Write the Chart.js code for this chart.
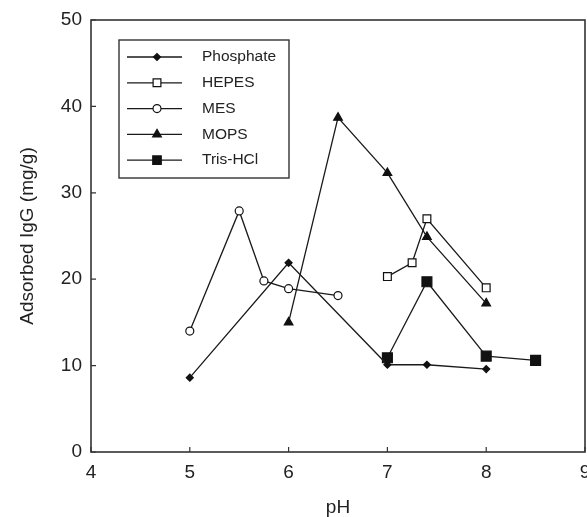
<!DOCTYPE html>
<html>
<head>
<meta charset="utf-8">
<script src="https://cdn.jsdelivr.net/npm/chart.js@4/dist/chart.umd.min.js"></script>
<style>
  html, body { margin: 0; padding: 0; background: #fff; }
  #wrap { width: 587px; height: 517px; }
</style>
</head>
<body>
<div id="wrap"><canvas id="c" width="587" height="517"></canvas></div>
<script>
// Valeurs
const seriesNames = ["Phosphate", "HEPES", "MES", "MOPS", "Tris-HCl"];

const phosphatePH = [5, 6, 7, 7.4, 8];
const phosphateIgG = [8.6, 21.9, 10.1, 10.1, 9.6];

const hepesPH = [7, 7.25, 7.4, 8];
const hepesIgG = [20.3, 21.9, 27, 19];

const mesPH = [5, 5.5, 5.75, 6, 6.5];
const mesIgG = [14, 27.9, 19.8, 18.9, 18.1];

const mopsPH = [6, 6.5, 7, 7.4, 8];
const mopsIgG = [15, 38.7, 32.3, 24.9, 17.2];

const trisPH = [7, 7.4, 8, 8.5];
const trisIgG = [10.9, 19.7, 11.1, 10.6];

const xTicks = [4, 5, 6, 7, 8, 9];
const yTicks = [0, 10, 20, 30, 40, 50];

const FONT = "'Liberation Sans', Arial, sans-serif";
const INK = "#222";

function pts(xs, ys) {
  return xs.map((x, i) => ({ x: x, y: ys[i] }));
}

function serie(label, xs, ys, style, radius, fill) {
  return {
    label: label,
    data: pts(xs, ys),
    borderColor: "#1a1a1a",
    borderWidth: 1.3,
    pointStyle: style,
    pointRadius: radius,
    pointHoverRadius: radius,
    pointBackgroundColor: fill,
    pointBorderColor: "#111",
    pointBorderWidth: 1.2,
    fill: false,
    tension: 0
  };
}

const datasets = [
  serie(seriesNames[0], phosphatePH, phosphateIgG, "rectRot", 3.5, "#111"),
  serie(seriesNames[1], hepesPH, hepesIgG, "rect", 5.5, "#fff"),
  serie(seriesNames[2], mesPH, mesIgG, "circle", 4, "#fff"),
  serie(seriesNames[3], mopsPH, mopsIgG, "triangle", 5, "#111"),
  serie(seriesNames[4], trisPH, trisIgG, "rect", 7, "#111")
];

// cadre + graduations vers l'intérieur
const framePlugin = {
  id: "frame",
  afterDatasetsDraw(chart) {
    const { ctx, chartArea: a, scales } = chart;
    ctx.save();
    ctx.strokeStyle = "#333";
    ctx.lineWidth = 1.6;
    ctx.strokeRect(a.left, a.top, a.right - a.left, a.bottom - a.top);
    ctx.lineWidth = 1.2;
    ctx.beginPath();
    scales.x.ticks.forEach(t => {
      const px = scales.x.getPixelForValue(t.value);
      ctx.moveTo(px, a.bottom);
      ctx.lineTo(px, a.bottom - 5);
    });
    scales.y.ticks.forEach(t => {
      const py = scales.y.getPixelForValue(t.value);
      ctx.moveTo(a.left, py);
      ctx.lineTo(a.left + 5, py);
    });
    ctx.stroke();
    ctx.restore();
  }
};

// légende dans la zone du graphique
const legendPlugin = {
  id: "boxLegend",
  afterDraw(chart) {
    const { ctx, chartArea: a } = chart;
    const bx = a.left + 28, by = a.top + 20, bw = 170, bh = 138;
    ctx.save();
    ctx.strokeStyle = "#333";
    ctx.lineWidth = 1.4;
    ctx.strokeRect(bx, by, bw, bh);
    ctx.font = "15.5px " + FONT;
    ctx.textBaseline = "middle";
    chart.data.datasets.forEach((ds, i) => {
      const y = by + 17 + i * 25.8;
      ctx.strokeStyle = "#1a1a1a";
      ctx.lineWidth = 1.3;
      ctx.beginPath();
      ctx.moveTo(bx + 8, y);
      ctx.lineTo(bx + 63, y);
      ctx.stroke();
      ctx.save();
      ctx.fillStyle = ds.pointBackgroundColor;
      ctx.strokeStyle = "#111";
      ctx.lineWidth = ds.pointBorderWidth;
      Chart.helpers.drawPoint(ctx, {
        pointStyle: ds.pointStyle,
        radius: ds.pointStyle === "rect" && ds.pointRadius > 6 ? 6 : ds.pointRadius,
        rotation: 0,
        borderWidth: ds.pointBorderWidth
      }, bx + 38, y);
      ctx.restore();
      ctx.fillStyle = INK;
      ctx.fillText(ds.label, bx + 83, y);
    });
    ctx.restore();
  }
};

new Chart(document.getElementById("c"), {
  type: "line",
  data: { datasets: datasets },
  options: {
    responsive: false,
    animation: false,
    events: [],
    layout: { autoPadding: false, padding: { left: 0, top: 20, right: 2, bottom: 0 } },
    plugins: {
      legend: { display: false },
      tooltip: { enabled: false }
    },
    scales: {
      x: {
        type: "linear",
        min: 4,
        max: 9,
        afterBuildTicks: s => { s.ticks = xTicks.map(v => ({ value: v })); },
        grid: { display: false, drawTicks: false },
        border: { display: false },
        ticks: { color: INK, font: { family: FONT, size: 19 }, padding: 9, maxRotation: 0 },
        title: {
          display: true,
          text: "pH",
          color: INK,
          font: { family: FONT, size: 19, lineHeight: 1 },
          padding: { top: 0, bottom: 0 }
        },
        afterFit: s => { s.height = 65; s.paddingLeft = 0; s.paddingRight = 0; }
      },
      y: {
        type: "linear",
        min: 0,
        max: 50,
        afterBuildTicks: s => { s.ticks = yTicks.map(v => ({ value: v })); },
        grid: { display: false, drawTicks: false },
        border: { display: false },
        ticks: { color: INK, font: { family: FONT, size: 19 }, padding: 9 },
        title: {
          display: true,
          text: "Adsorbed IgG (mg/g)",
          color: INK,
          font: { family: FONT, size: 19, lineHeight: 1 },
          padding: { top: 18, bottom: 0 }
        },
        afterFit: s => { s.width = 91; s.paddingTop = 0; s.paddingBottom = 0; }
      }
    }
  },
  plugins: [framePlugin, legendPlugin]
});
</script>
</body>
</html>
